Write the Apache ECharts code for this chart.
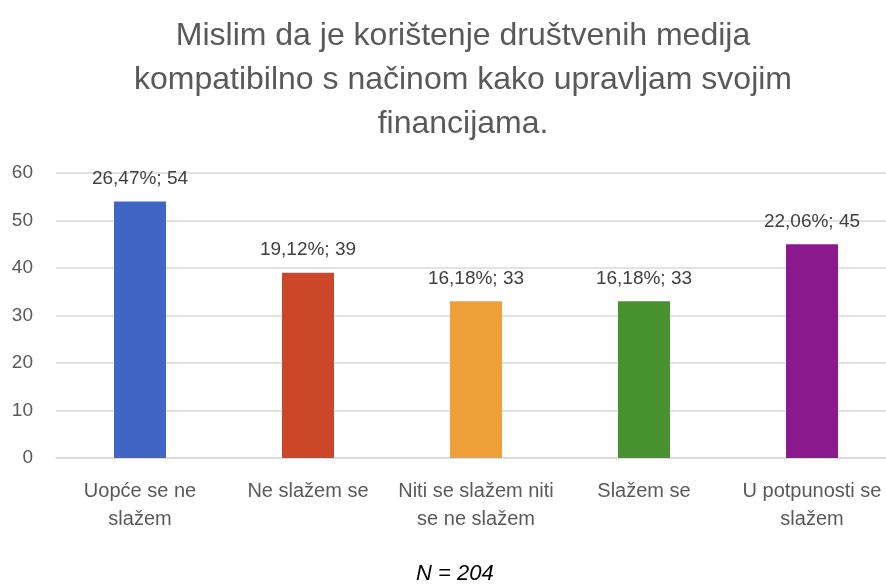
<!DOCTYPE html>
<html lang="hr">
<head>
    <meta charset="UTF-8">
    <title>Društveni mediji i financije</title>
    <script src="https://cdn.jsdelivr.net/npm/echarts@6/dist/echarts.min.js"></script>
    <style>
        html, body { margin: 0; padding: 0; background: #fff; }
        #chart { width: 886px; height: 587px; }
    </style>
</head>
<body>
<div id="chart"></div>
<script>
    // podaci s grafikona
    const categories = ['Uopće se ne\nslažem', 'Ne slažem se', 'Niti se slažem niti\nse ne slažem', 'Slažem se', 'U potpunosti se\nslažem'];
    const counts = [54, 39, 33, 33, 45];
    const percents = ['26,47%', '19,12%', '16,18%', '16,18%', '22,06%'];
    const barColors = ['#4065C4', '#CC4628', '#F0A03A', '#479130', '#8B1A8F'];
    const yTicks = { min: 0, max: 60, interval: 10 };

    const font = 'Liberation Sans, Arial, sans-serif';
    const chart = echarts.init(document.getElementById('chart'));

    const option = {
        animation: false,
        title: {
            text: 'Mislim da je korištenje društvenih medija\nkompatibilno s načinom kako upravljam svojim\nfinancijama.',
            left: 458,
            top: 9,
            textAlign: 'center',
            textStyle: {
                fontFamily: font,
                fontSize: 32,
                fontWeight: 'normal',
                color: '#595959',
                lineHeight: 44
            }
        },
        graphic: [{
            type: 'text',
            left: 416,
            top: 563,
            style: {
                text: 'N = 204',
                fontFamily: font,
                fontStyle: 'italic',
                fontSize: 22,
                fill: '#000'
            }
        }],
        grid: {
            left: 56,
            width: 840,
            top: 173,
            bottom: 129,
            outerBoundsMode: 'none'
        },
        xAxis: {
            type: 'category',
            data: categories,
            axisLine: { show: true, lineStyle: { color: '#d9d9d9', width: 1.5 } },
            axisTick: { show: false },
            axisLabel: {
                interval: 0,
                margin: 19,
                color: '#595959',
                fontFamily: font,
                fontSize: 20,
                lineHeight: 28
            }
        },
        yAxis: {
            type: 'value',
            min: yTicks.min,
            max: yTicks.max,
            interval: yTicks.interval,
            axisLine: { show: false },
            axisTick: { show: false },
            splitLine: { lineStyle: { color: '#d9d9d9', width: 1.5 } },
            axisLabel: {
                margin: 23,
                color: '#595959',
                fontFamily: font,
                fontSize: 19
            }
        },
        series: [{
            type: 'bar',
            barWidth: 52,
            data: counts.map((v, i) => ({
                value: v,
                itemStyle: { color: barColors[i] }
            })),
            label: {
                show: true,
                position: 'top',
                distance: 13,
                color: '#404040',
                fontFamily: font,
                fontSize: 19,
                formatter: p => percents[p.dataIndex] + '; ' + p.value
            }
        }]
    };

    chart.setOption(option);
</script>
</body>
</html>
